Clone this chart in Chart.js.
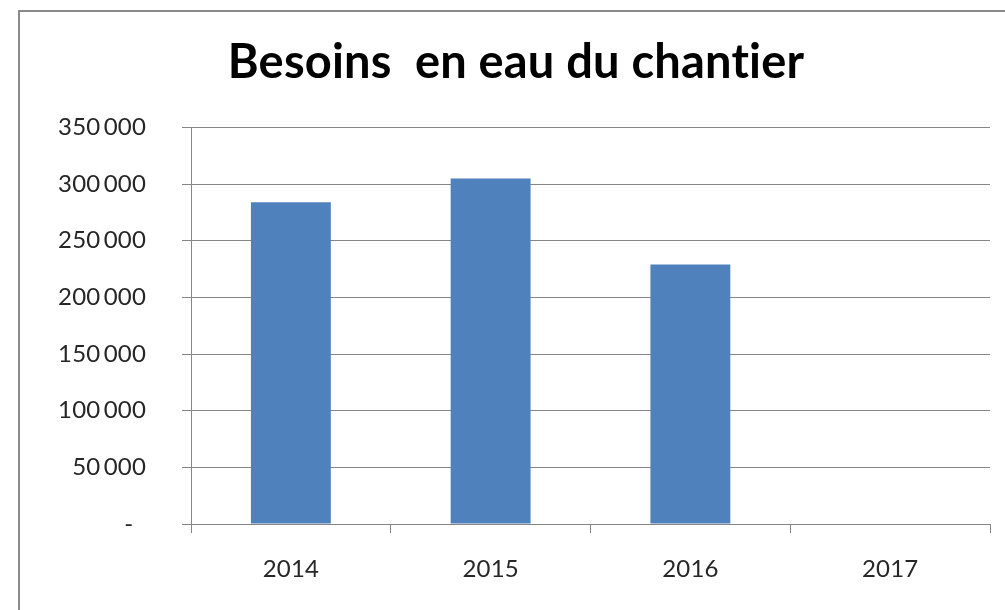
<!DOCTYPE html>
<html><head><meta charset="utf-8">
<script src="https://cdn.jsdelivr.net/npm/chart.js@4"></script>
<style>html,body{margin:0;padding:0;background:#fff}#wrap{width:1005px;height:610px;position:relative}</style>
</head><body><div id="wrap"><canvas id="c" width="1005" height="610"></canvas></div>
<script>
const categories = ["2014", "2015", "2016", "2017"];
const besoins = [284000, 305000, 229000, 0];
const yTicks = [0, 50000, 100000, 150000, 200000, 250000, 300000, 350000];
const titleText = "Besoins  en eau du chantier";

function fmt(v){ if(v===0) return "-  "; return String(v).replace(/\B(?=(\d{3})+(?!\d))/g, "\u2009"); }

const frame = {
  id:'frame',
  beforeDraw(chart){
    const ctx=chart.ctx;
    ctx.fillStyle='#fff'; ctx.fillRect(0,0,chart.width,chart.height);
    ctx.save(); ctx.strokeStyle='#8a8a8a'; ctx.lineWidth=2; ctx.strokeRect(19,11,1200,800); ctx.restore();
    ctx.letterSpacing='0.2px';
  }
};

new Chart(document.getElementById('c'), {
  type:'bar',
  data:{ labels:categories, datasets:[{ data:besoins, backgroundColor:'#4f81bd', borderWidth:0, categoryPercentage:0.4, barPercentage:1.0 }]},
  options:{
    responsive:false, animation:false,
    layout:{ padding:{ left:42, right:15, top:0, bottom:0 } },
    plugins:{ legend:{display:false}, tooltip:{enabled:false},
      title:{ display:true, text:titleText, color:'#000', font:{ family:'Lato', size:47, weight:'bold' }, padding:{ top:35, bottom:36 } } },
    scales:{
      x:{ grid:{ display:true, drawOnChartArea:false, offset:true, color:'#868686', tickLength:9, lineWidth:1 },
          border:{ color:'#868686', width:1 },
          ticks:{ color:'#262626', font:{ family:'Lato', size:24 }, padding:22 },
          afterFit(s){ s.height = 610-524; } },
      y:{ min:0, max:350000, afterBuildTicks(s){ s.ticks = yTicks.map(v=>({value:v})); },
          grid:{ color:'#868686', tickLength:9, lineWidth:1 },
          border:{ color:'#868686', width:1 },
          ticks:{ color:'#262626', font:{ family:'Lato', size:24 }, padding:36, callback:(v)=>fmt(v) },
          afterFit(s){ s.width = 191-42; } }
    }
  },
  plugins:[frame]
});
</script></body></html>
